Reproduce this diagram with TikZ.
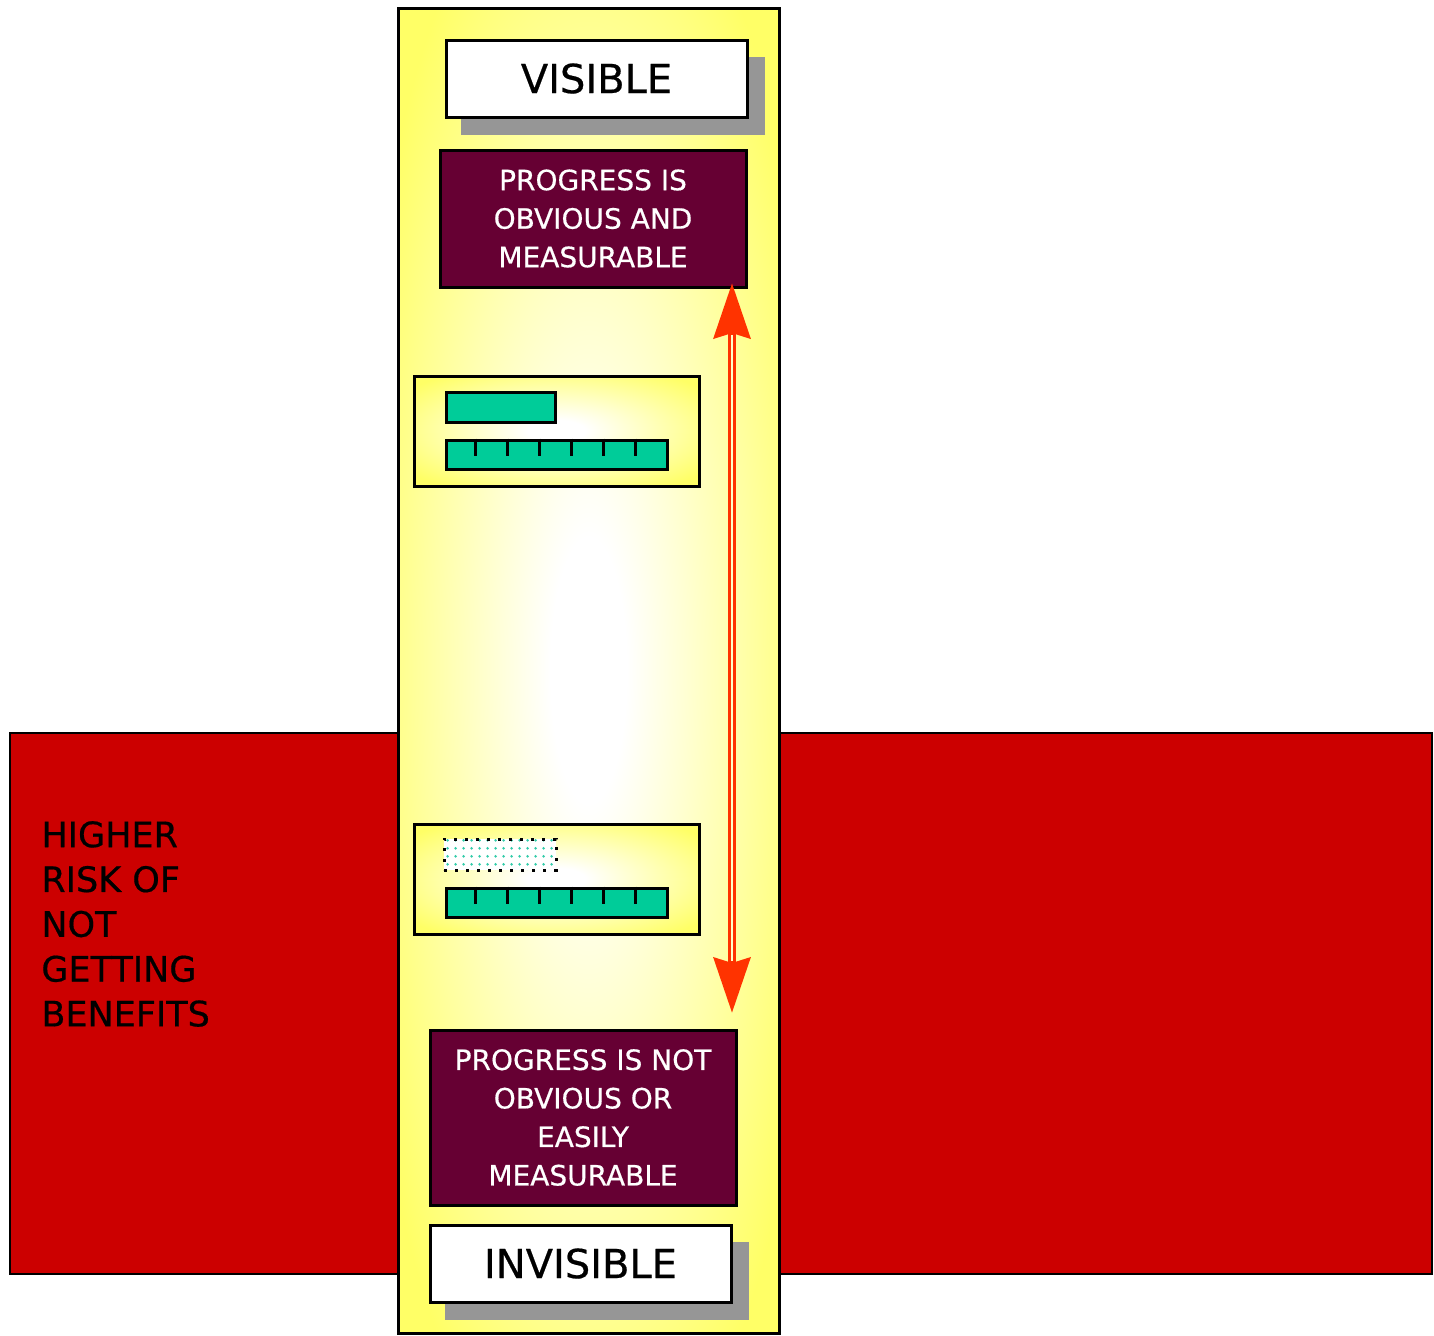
\documentclass[tikz,border=0pt]{standalone}
\usepackage{fontspec}
\setmainfont{DejaVu Sans}[FakeBold=0.5]
\usetikzlibrary{arrows.meta,shadows,patterns.meta,positioning}

\definecolor{ylw}{HTML}{FFFF66}
\definecolor{bandred}{HTML}{CC0000}
\definecolor{progmaroon}{HTML}{660033}
\definecolor{barteal}{HTML}{00CC99}
\definecolor{dotteal}{HTML}{33CCAA}
\definecolor{arrowred}{HTML}{FF3300}
\definecolor{shadowgray}{HTML}{969696}

\pgfdeclareradialshading{glow}{\pgfpoint{0bp}{0bp}}%
  {color(0bp)=(white); color(5bp)=(white); color(32bp)=(ylw); color(50bp)=(ylw)}

\tikzset{
  labelbox/.style={draw, fill=white, line width=1.5pt, minimum width=150.5pt,
    minimum height=38.5pt, font=\fontsize{20}{23}\selectfont,
    drop shadow={shadow xshift=8pt, shadow yshift=-8.5pt, shadow scale=1.01,
      fill=shadowgray, opacity=1}},
  statebox/.style={draw, fill=progmaroon, text=white, line width=1.5pt,
    minimum width=153pt, align=center, font=\fontsize{14}{19.25}\selectfont},
  panel/.style={draw, line width=1.5pt, shading=glow, minimum width=142.5pt, minimum height=55pt},
  bar/.style={draw, fill=barteal, line width=1.5pt, inner sep=0pt},
  ghostbar/.style={draw, line width=1.5pt, dash pattern=on 1.5pt off 4pt, inner sep=0pt,
    preaction={fill=white}, pattern={Dots[distance=4pt, radius=0.8pt]}, pattern color=dotteal},
  tick/.style={line width=1.5pt},
  tip/.tip={Stealth[length=27.5pt, width=18pt, inset=2.5pt]}
}

\begin{document}
\begin{tikzpicture}[x=0.5pt, y=-0.5pt]
  \useasboundingbox (0,0) rectangle (1434,1335);

  % band and column
  \filldraw[fill=bandred, line width=1pt] (10,733) rectangle (1432,1274);
  \shadedraw[shading=glow, line width=1.5pt] (398,8) rectangle (779,1333);

  \node (risk) [anchor=west, align=left, inner sep=0pt, font=\fontsize{17.5}{22.4}\selectfont]
    at (41,924) {HIGHER\\RISK OF\\NOT\\GETTING\\BENEFITS};

  \node (visible) [labelbox] at (596.5,78.5) {VISIBLE};
  \node (obvious) [statebox, minimum height=68.5pt] at (593,218.5)
    {PROGRESS IS\\OBVIOUS AND\\MEASURABLE};

  % progress panels
  \node (panelA) [panel] at (556.5,431) {};
  \node (doneA) [bar, minimum width=54.5pt, minimum height=15pt] at (500.5,407) {};
  \node (rulerA) [bar, minimum width=110.5pt, minimum height=14.5pt] at (556.5,454.5) {};
  \node (panelB) [panel] at (556.5,879) {};
  \node (doneB) [ghostbar, minimum width=56pt, minimum height=15.5pt] at (500,854.5) {};
  \node (rulerB) [bar, minimum width=110.5pt, minimum height=14.5pt] at (556.5,902.5) {};
  \foreach \r in {rulerA,rulerB}
    \foreach \k in {1,...,6}
      \draw[tick] ([xshift=\k*16pt-0.5pt]\r.north west) -- ++(0,17);

  \node (notobvious) [statebox, minimum height=87.5pt] at (583,1117.5)
    {PROGRESS IS NOT\\OBVIOUS OR\\EASILY\\MEASURABLE};
  \node (invisible) [labelbox] at (580.5,1263.5) {INVISIBLE};

  % two-way arrow
  \coordinate (upTip) at (732,283);
  \coordinate (downTip) at (732,1013);
  \draw[arrowred, line width=4pt, tip-tip] (upTip) -- (downTip);
  \draw[ylw!35, line width=1pt, shorten <=26pt, shorten >=26pt] (upTip) -- (downTip);
\end{tikzpicture}
\end{document}
